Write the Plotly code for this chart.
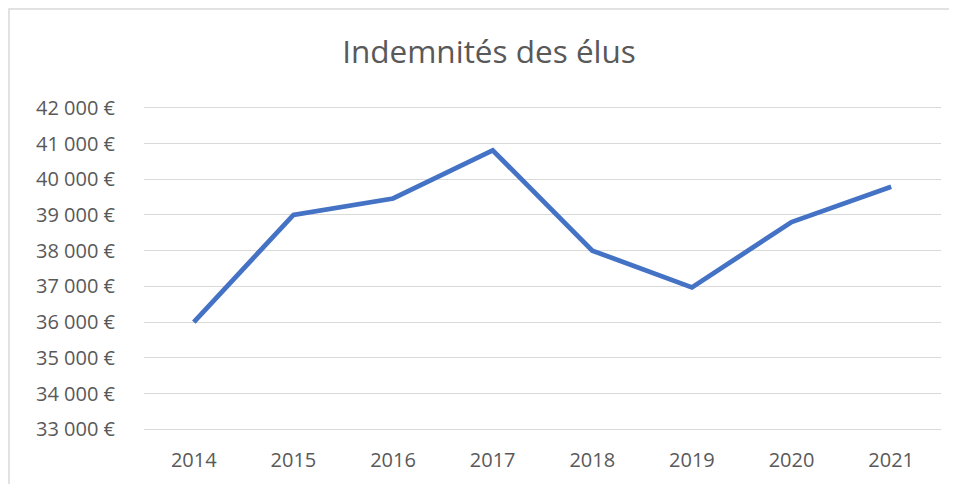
import plotly.graph_objects as go

years = ["2014", "2015", "2016", "2017", "2018", "2019", "2020", "2021"]
indemnites = [36000, 39000, 39460, 40810, 38000, 36970, 38800, 39790]
tick_values = [33000, 34000, 35000, 36000, 37000, 38000, 39000, 40000, 41000, 42000]
tick_labels = ["33 000 €", "34 000 €", "35 000 €", "36 000 €", "37 000 €",
               "38 000 €", "39 000 €", "40 000 €", "41 000 €", "42 000 €"]
title_text = "Indemnités des élus"

# the page body adds an 8px offset, so the figure is 8px smaller
W, H = 949, 476
L, R, T, B = 136, 16, 98, 53
pw, ph = W - L - R, H - T - B

fig = go.Figure()
fig.add_trace(go.Scatter(
    x=years, y=indemnites, mode="lines",
    line=dict(color="#4472C4", width=4.8),
    hoverinfo="x+y",
))

font_family = "Open Sans, Lato, sans-serif"

fig.update_layout(
    width=W, height=H,
    margin=dict(l=L, r=R, t=T, b=B, autoexpand=False),
    paper_bgcolor="white", plot_bgcolor="white",
    showlegend=False,
    title=dict(text=title_text, x=481 / W, xref="container", xanchor="center",
               y=1 - 44 / H, yref="container", yanchor="middle", automargin=False,
               font=dict(family=font_family, size=31.5, color="#595959")),
    xaxis=dict(type="category", range=[-0.5, len(years) - 0.5], automargin=False,
               showgrid=False, zeroline=False, showline=False,
               ticks="", ticklabelstandoff=15,
               tickfont=dict(family=font_family, size=20, color="#595959")),
    yaxis=dict(range=[32950, 42050], tickvals=tick_values, ticktext=tick_labels,
               automargin=False,
               showgrid=True, gridcolor="#d9d9d9", gridwidth=1.3,
               zeroline=False, showline=False, ticks="", ticklabelstandoff=28,
               tickfont=dict(family=font_family, size=20, color="#595959")),
)

# light chart-area border (top and left visible in the reference)
fig.add_shape(type="rect", xref="paper", yref="paper",
              x0=(1 - L) / pw, x1=(W + 30 - L) / pw,
              y0=(H - B - (H + 30)) / ph, y1=(H - B - 1) / ph,
              line=dict(color="#d9d9d9", width=1.5), fillcolor="rgba(0,0,0,0)",
              layer="below")

fig.write_html("out.html")
